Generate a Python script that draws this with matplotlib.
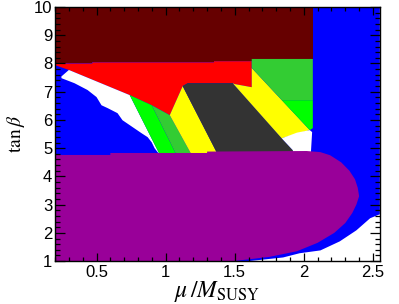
import matplotlib
matplotlib.use("Agg")
import matplotlib.pyplot as plt
from matplotlib.ticker import MultipleLocator, FuncFormatter

plt.rcParams['font.family'] = ['Liberation Sans', 'DejaVu Sans']
plt.rcParams['mathtext.fontset'] = 'stix'

# region outlines, as (mu/M_SUSY, tan beta) vertex lists
blue_x = [0.2, 1.60, 1.85, 1.97, 2.12, 2.26, 2.38, 2.48, 2.55, 2.55, 0.2]
blue_y = [1.0, 1.0, 1.13, 1.28, 1.38, 1.70, 2.09, 2.52, 2.66, 10.0, 10.0]

darkred_x = [0.2, 2.065, 2.065, 1.623, 1.623, 1.35, 1.35, 0.47, 0.47, 0.2]
darkred_y = [10.0, 10.0, 8.16, 8.16, 8.08, 8.08, 8.04, 8.04, 8.0, 8.0]

red_x = [0.2, 0.47, 0.47, 1.35, 1.35, 1.623, 1.623, 1.50, 1.486, 1.16, 1.123,
         1.12, 1.03, 0.90, 0.74, 0.30, 0.2]
red_y = [8.0, 8.0, 8.04, 8.04, 8.08, 8.08, 7.16, 7.27, 7.30, 7.30, 7.20,
         7.16, 6.17, 6.52, 6.88, 7.77, 7.94]

white_left_x = [0.246, 0.30, 0.74, 0.96, 0.942, 0.92, 0.899, 0.87, 0.826, 0.739,
                0.688, 0.652, 0.58, 0.536, 0.50, 0.435, 0.341, 0.246]
white_left_y = [7.54, 7.77, 6.88, 4.75, 4.86, 5.0, 5.21, 5.39, 5.53, 5.82,
                5.99, 6.24, 6.42, 6.52, 6.81, 7.06, 7.30, 7.48]

green_left_x = [0.74, 0.90, 1.08, 0.96]
green_left_y = [6.88, 6.52, 4.75, 4.75]

mgreen_left_x = [0.90, 1.03, 1.19, 1.08]
mgreen_left_y = [6.52, 6.17, 4.75, 4.75]

yellow_left_x = [1.03, 1.12, 1.123, 1.38, 1.19]
yellow_left_y = [6.17, 7.16, 7.20, 4.75, 4.75]

gray_x = [1.123, 1.16, 1.486, 1.84, 1.92, 1.93, 1.38]
gray_y = [7.20, 7.30, 7.30, 5.35, 4.93, 4.75, 4.75]

yellow_right_x = [1.486, 1.50, 1.623, 1.623, 2.043, 1.84]
yellow_right_y = [7.30, 7.27, 7.16, 7.84, 5.64, 5.35]

mgreen_right_x = [1.623, 2.065, 2.065, 1.84, 1.623]
mgreen_right_y = [8.16, 8.16, 6.70, 6.70, 7.84]

green_right_x = [1.84, 2.065, 2.065, 2.043]
green_right_y = [6.70, 6.70, 5.71, 5.64]

white_patch_x = [1.84, 1.95, 2.043, 2.06, 2.05, 1.93, 1.92]
white_patch_y = [5.35, 5.55, 5.64, 5.57, 4.75, 4.75, 4.93]

purple_x = [0.2, 0.6, 0.6, 1.3, 1.3, 2.02, 2.12, 2.19, 2.27, 2.33, 2.37, 2.39,
            2.40, 2.38, 2.35, 2.30, 2.22, 2.10, 1.95, 1.75, 1.49, 0.2]
purple_y = [4.76, 4.76, 4.83, 4.83, 4.88, 4.90, 4.86, 4.75, 4.5, 4.2, 3.9, 3.6,
            3.3, 3.0, 2.7, 2.35, 2.0, 1.65, 1.35, 1.15, 1.0, 1.0]

regions = [
    (blue_x, blue_y, '#0000ff'),
    (darkred_x, darkred_y, '#660000'),
    (red_x, red_y, '#ff0000'),
    (white_left_x, white_left_y, '#ffffff'),
    (green_left_x, green_left_y, '#00ff00'),
    (mgreen_left_x, mgreen_left_y, '#33cc33'),
    (yellow_left_x, yellow_left_y, '#ffff00'),
    (gray_x, gray_y, '#333333'),
    (yellow_right_x, yellow_right_y, '#ffff00'),
    (mgreen_right_x, mgreen_right_y, '#33cc33'),
    (green_right_x, green_right_y, '#00ff00'),
    (white_patch_x, white_patch_y, '#ffffff'),
    (purple_x, purple_y, '#990099'),
]

fig = plt.figure(figsize=(3.99, 3.04), dpi=100)
ax = fig.add_axes([0.138, 0.141, 0.814, 0.836])

for xs, ys, col in regions:
    ax.fill(xs, ys, color=col, lw=0)

ax.set_xlim(0.2, 2.55)
ax.set_ylim(1, 10)

ax.xaxis.set_major_locator(MultipleLocator(0.5))
ax.xaxis.set_minor_locator(MultipleLocator(0.1))
ax.yaxis.set_major_locator(MultipleLocator(1))
ax.yaxis.set_minor_locator(MultipleLocator(0.2))
ax.xaxis.set_major_formatter(FuncFormatter(lambda v, p: '%g' % v))
ax.yaxis.set_major_formatter(FuncFormatter(lambda v, p: '%g' % v))

ax.tick_params(axis='both', which='both', direction='in', top=True, right=True,
               labelsize=12, color='black', width=0.9)
ax.tick_params(axis='x', which='major', length=5.8, pad=3)
ax.tick_params(axis='x', which='minor', length=2.9)
ax.tick_params(axis='y', which='major', length=7.2, pad=2)
ax.tick_params(axis='y', which='minor', length=3.6)
for s in ax.spines.values():
    s.set_linewidth(1.0)
    s.set_zorder(5)

ax.set_xlabel(r'$\mu\,/M_{\rm SUSY}$', fontsize=17, labelpad=-1)
ax.set_ylabel(r'$\tan\beta$', fontsize=14, labelpad=5)

fig.savefig('out.png', dpi=100)
